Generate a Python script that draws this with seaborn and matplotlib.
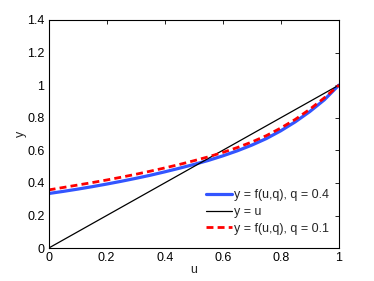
import numpy as np
import pandas as pd
import matplotlib
matplotlib.use("Agg")
import matplotlib.pyplot as plt
import seaborn as sns

u_vals = [0.0, 0.05, 0.1, 0.15, 0.2, 0.25, 0.3, 0.35, 0.4, 0.45, 0.5,
          0.55, 0.6, 0.65, 0.7, 0.75, 0.8, 0.85, 0.9, 0.95, 1.0]
f_q04 = [0.335, 0.348, 0.362, 0.377, 0.393, 0.41, 0.428, 0.447, 0.468, 0.49, 0.513,
         0.538, 0.566, 0.597, 0.632, 0.672, 0.72, 0.775, 0.838, 0.91, 1.0]
f_q01 = [0.357, 0.372, 0.387, 0.402, 0.418, 0.435, 0.453, 0.472, 0.492, 0.513, 0.536,
         0.56, 0.587, 0.617, 0.651, 0.69, 0.737, 0.79, 0.852, 0.922, 1.0]
line_u = [0.0, 1.0]
line_y = [0.0, 1.0]
x_ticks = [0, 0.2, 0.4, 0.6, 0.8, 1]
x_tick_labels = ["0", "0.2", "0.4", "0.6", "0.8", "1"]
y_ticks = [0, 0.2, 0.4, 0.6, 0.8, 1, 1.2, 1.4]
y_tick_labels = ["0", "0.2", "0.4", "0.6", "0.8", "1", "1.2", "1.4"]
labels = ["y = f(u,q), q = 0.4", "y = u", "y = f(u,q), q = 0.1"]

sns.set_style("white")
plt.rcParams['font.family'] = ['Liberation Sans', 'DejaVu Sans']

df04 = pd.DataFrame({"u": u_vals, "y": f_q04})
dfl = pd.DataFrame({"u": line_u, "y": line_y})
df01 = pd.DataFrame({"u": u_vals, "y": f_q01})

fig = plt.figure(figsize=(3.74, 2.81), dpi=100)
ax = fig.add_axes([0.13, 0.117, 0.776, 0.812])

sns.lineplot(data=df04, x="u", y="y", ax=ax, color="#3355ff", linewidth=2.3,
             label=labels[0], sort=False)
sns.lineplot(data=dfl, x="u", y="y", ax=ax, color="black", linewidth=0.9,
             label=labels[1], sort=False)
sns.lineplot(data=df01, x="u", y="y", ax=ax, color="#ff0000", linewidth=2.0,
             label=labels[2], sort=False, dashes=False)
ax.lines[2].set_dashes([2.5, 1.5])

ax.set_xlim(0, 1)
ax.set_ylim(0, 1.4)
ax.set_xticks(x_ticks)
ax.set_xticklabels(x_tick_labels)
ax.set_yticks(y_ticks)
ax.set_yticklabels(y_tick_labels)
ax.tick_params(direction="in", length=3, width=0.6, labelsize=9, colors="black",
               top=True, right=True, pad=3)
for s in ax.spines.values():
    s.set_visible(True)
    s.set_color("black")
    s.set_linewidth(0.8)
ax.set_xlabel("u", fontsize=9, labelpad=0)
ax.set_ylabel("y", fontsize=9, labelpad=0)

leg = ax.legend(loc="lower right", bbox_to_anchor=(0.995, 0.02), frameon=False,
                fontsize=9, handlelength=2.1, handletextpad=0.1,
                labelspacing=0.38, borderaxespad=0.3)

fig.savefig("out.png", dpi=100)
